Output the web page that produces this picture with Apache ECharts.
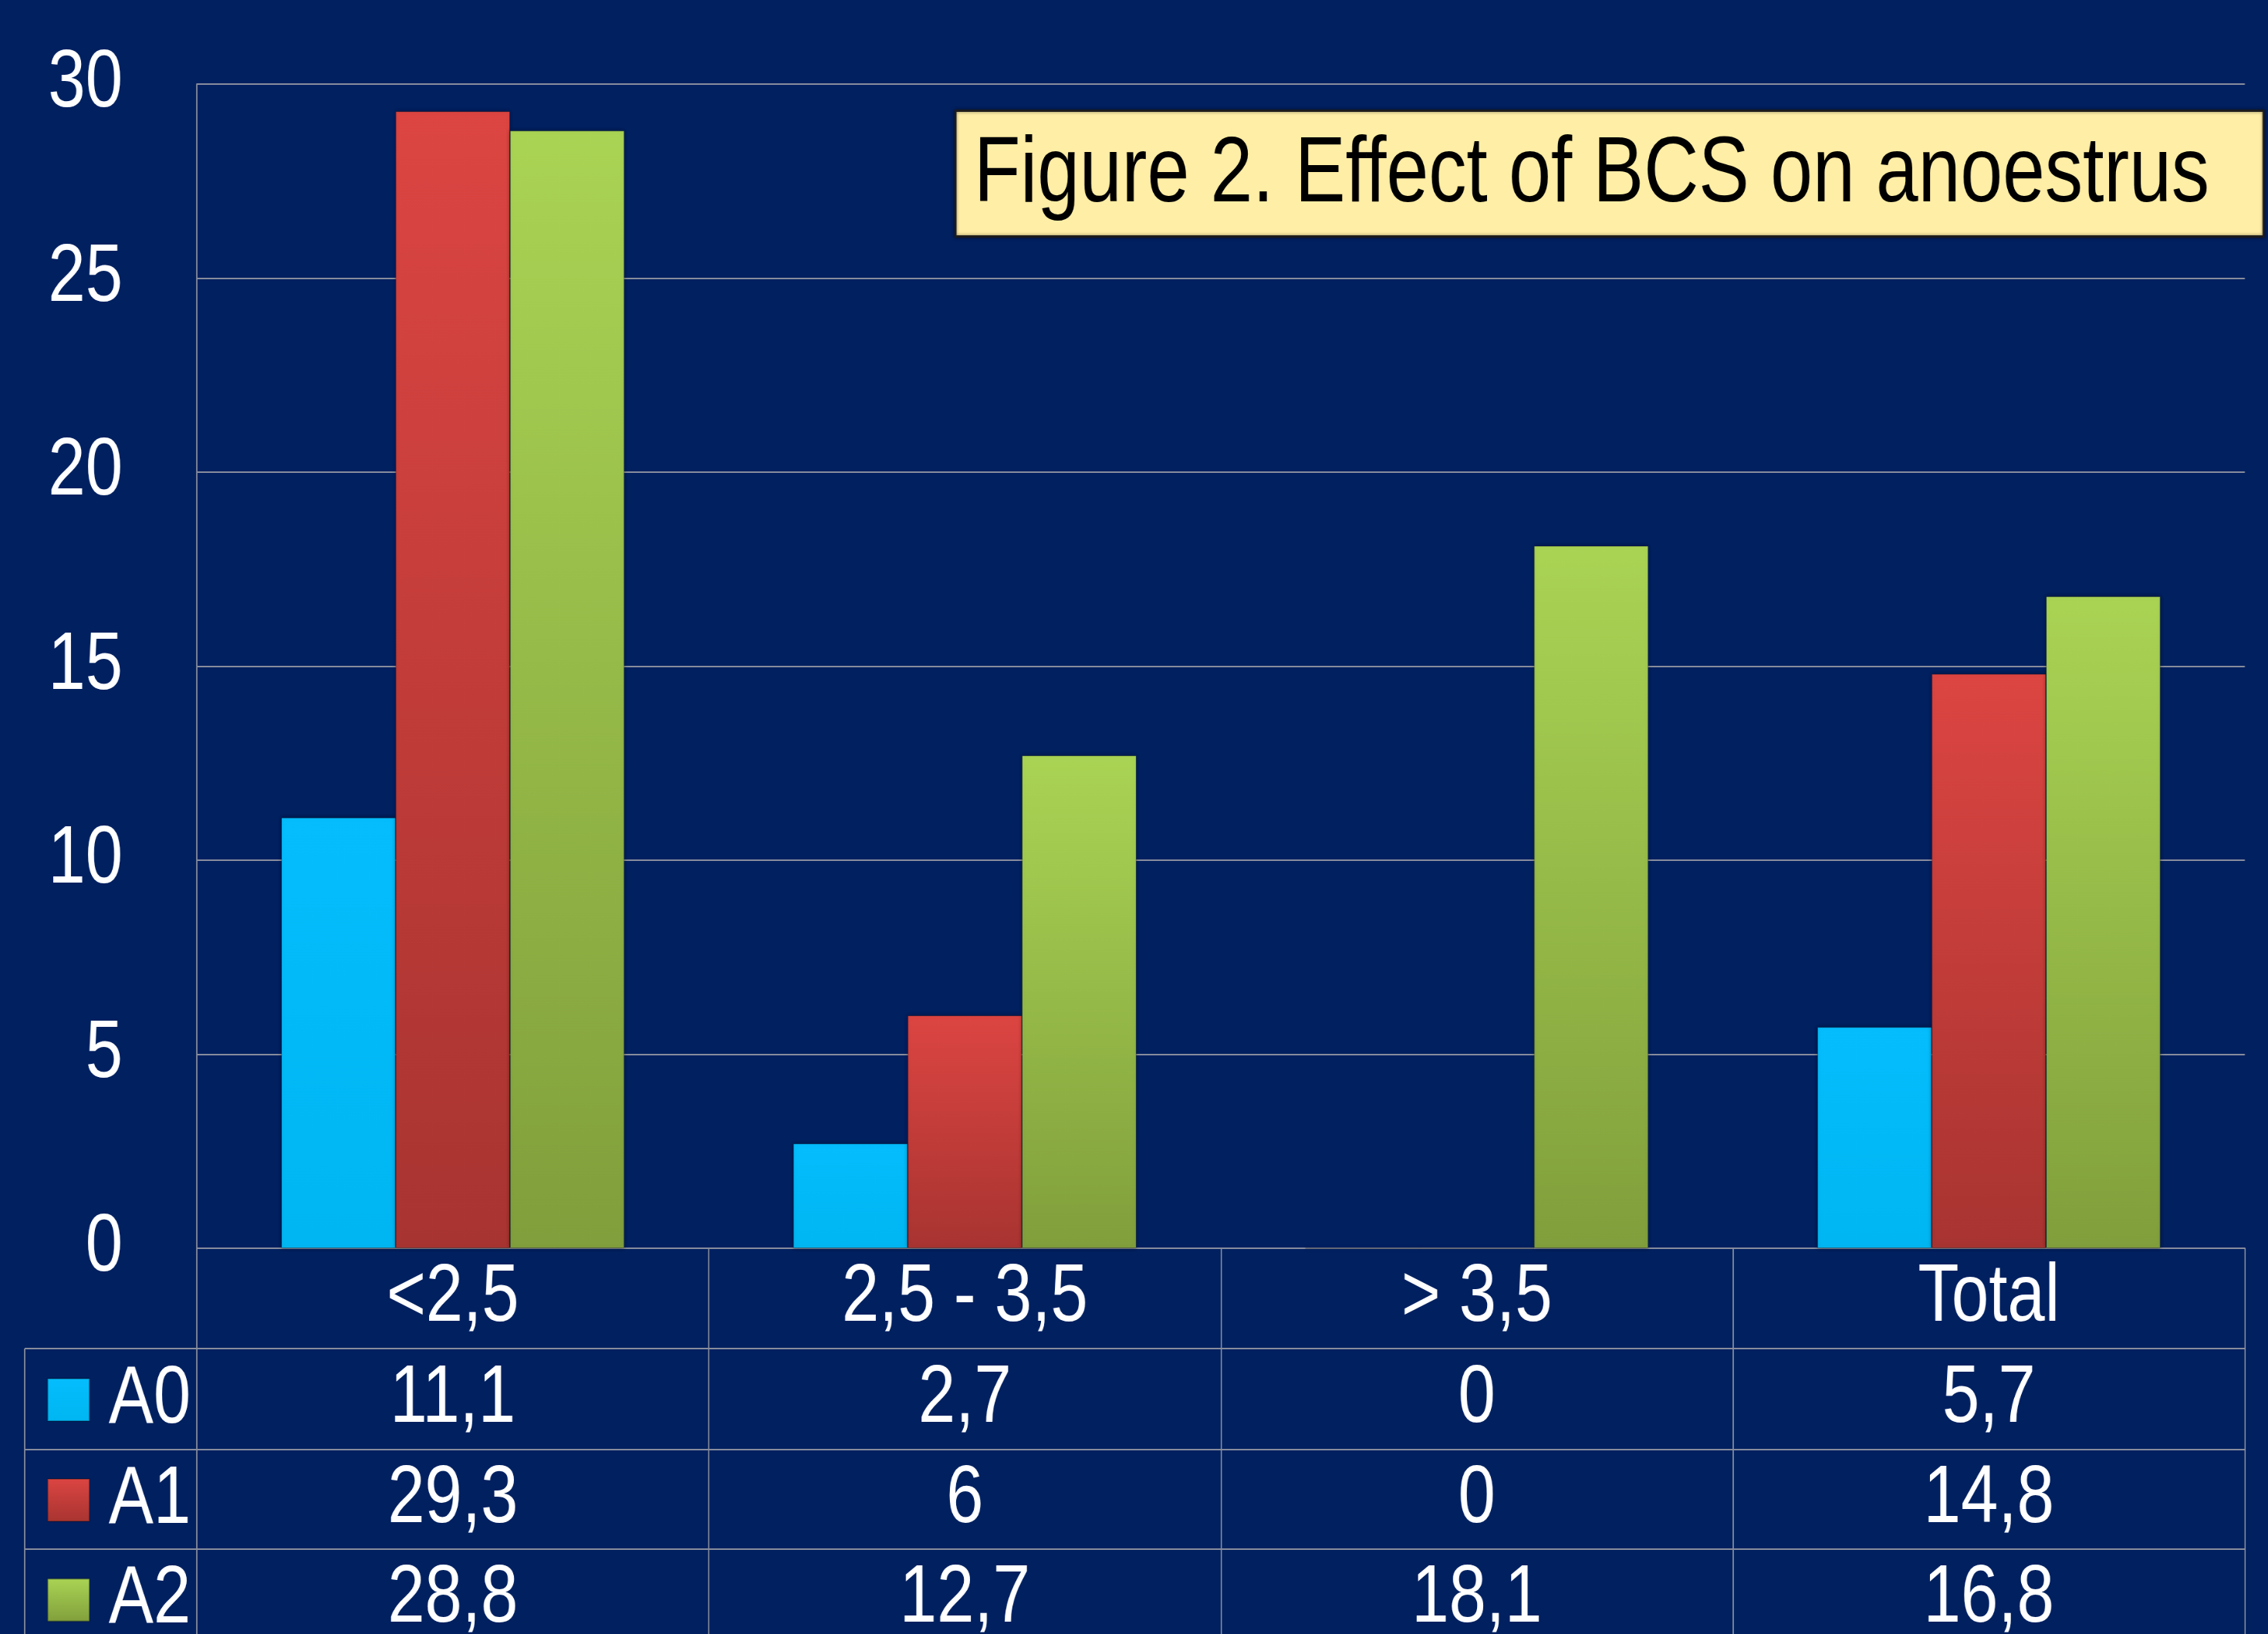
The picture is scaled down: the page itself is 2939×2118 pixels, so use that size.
<!DOCTYPE html>
<html>
<head>
<meta charset="utf-8">
<script src="https://cdn.jsdelivr.net/npm/echarts@6.0.0/dist/echarts.min.js"></script>
<style>
  html, body { margin: 0; padding: 0; background: #002060; overflow: hidden; }
  #chart { width: 3584px; height: 2118px; transform: scaleX(0.82); transform-origin: 0 0; }
</style>
</head>
<body>
<div id="chart"></div>
<script>
const categories = ['<2,5', '2,5 - 3,5', '> 3,5', 'Total']
const seriesNames = ['A0', 'A1', 'A2']
const a0 = [11.1, 2.7, 0, 5.7]
const a1 = [29.3, 6, 0, 14.8]
const a2 = [28.8, 12.7, 18.1, 16.8]
const yTicks = [0, 5, 10, 15, 20, 25, 30]

// text in the original is a bit narrow, so the whole canvas is squeezed horizontally
const SX = 0.82
const W = 2939 / SX
const H = 2118
const font = '"Liberation Sans", Arial, sans-serif'
const lineColor = '#878c9c'

const plotLeft = 255 / SX
const plotRight = 2909 / SX
const plotTop = 109
const plotBottom = 1618
const rowH = [130, 131, 129, 130]
const tableLeft = 32 / SX

const fmt = v => String(v).replace('.', ',')

function grad(top, bottom) {
  return new echarts.graphic.LinearGradient(0, 0, 0, 1, [
    { offset: 0, color: top },
    { offset: 1, color: bottom }
  ])
}

const colors = [
  grad('#05bdfd', '#00b6f2'),
  grad('#dc4542', '#a83431'),
  grad('#aad454', '#819f3c')
]
const values = [a0, a1, a2]

const chart = echarts.init(document.getElementById('chart'), null, { width: W, height: H })

// table rows are extra x axes pushed down with offset
let offsets = [0]
for (let i = 0; i < 3; i++) offsets.push(offsets[i] + rowH[i])

const xAxes = offsets.map((off, k) => ({
  type: 'category',
  position: 'bottom',
  gridIndex: 0,
  offset: off,
  data: categories,
  axisLine: { show: true, lineStyle: { color: lineColor, width: 2 } },
  axisTick: { show: true, length: rowH[k], lineStyle: { color: lineColor, width: 2 } },
  axisLabel: {
    color: '#fff',
    fontFamily: font,
    fontSize: 106,
    margin: 0,
    lineHeight: rowH[k],
    formatter: (v, i) => k === 0 ? v : fmt(values[k - 1][i])
  }
}))

// one legend per table row, so each key sits in its own row
const legends = seriesNames.map((name, i) => ({
  orient: 'horizontal',
  left: 61 / SX,
  top: plotBottom + offsets[i + 1] + rowH[i + 1] / 2 - 52,
  padding: 0,
  itemWidth: 54 / SX,
  itemHeight: 55,
  icon: 'rect',
  data: [name],
  textStyle: {
    color: '#fff',
    fontFamily: font,
    fontSize: 106,
    lineHeight: 55,
    padding: [0, 0, 0, 21 / SX]
  }
}))

// left part of the table (legend column)
const graphics = []
offsets.slice(1).forEach(off => {
  graphics.push({
    type: 'line',
    shape: { x1: tableLeft, y1: plotBottom + off, x2: plotLeft, y2: plotBottom + off },
    style: { stroke: lineColor, lineWidth: 2 }
  })
})
graphics.push({
  type: 'line',
  shape: { x1: tableLeft, y1: plotBottom + offsets[1], x2: tableLeft, y2: H },
  style: { stroke: lineColor, lineWidth: 2 }
})
// title box
graphics.push({
  type: 'group',
  left: 1237 / SX,
  top: 142,
  children: [
    {
      type: 'rect',
      shape: { x: 0, y: 0, width: 1695 / SX, height: 163 },
      style: { fill: '#ffeea6', stroke: '#1c1c1c', lineWidth: 3, shadowBlur: 4, shadowColor: 'rgba(0,0,0,0.5)' }
    },
    {
      type: 'text',
      x: 24 / SX,
      y: 84,
      style: {
        text: 'Figure 2. Effect of BCS on anoestrus',
        fill: '#000',
        font: '120px ' + font,
        verticalAlign: 'middle'
      }
    }
  ]
})

chart.setOption({
  backgroundColor: '#002060',
  animation: false,
  grid: {
    left: plotLeft,
    top: plotTop,
    width: plotRight - plotLeft,
    height: plotBottom - plotTop,
    outerBoundsMode: 'none'
  },
  legend: legends,
  xAxis: xAxes,
  yAxis: {
    type: 'value',
    min: yTicks[0],
    max: yTicks[yTicks.length - 1],
    interval: 5,
    axisLine: { show: true, lineStyle: { color: lineColor, width: 2 } },
    axisTick: { show: false },
    splitLine: { show: true, lineStyle: { color: lineColor, width: 2 } },
    axisLabel: {
      color: '#fff',
      fontFamily: font,
      fontSize: 106,
      margin: 96 / SX
    }
  },
  graphic: graphics,
  series: seriesNames.map((name, i) => ({
    name: name,
    type: 'bar',
    xAxisIndex: 0,
    barGap: '0%',
    barCategoryGap: '33%',
    data: values[i],
    itemStyle: {
      color: colors[i],
      borderColor: 'rgba(0,0,0,0.25)',
      borderWidth: 1,
      shadowBlur: 6,
      shadowColor: 'rgba(0,0,0,0.4)'
    }
  }))
})
</script>
</body>
</html>
